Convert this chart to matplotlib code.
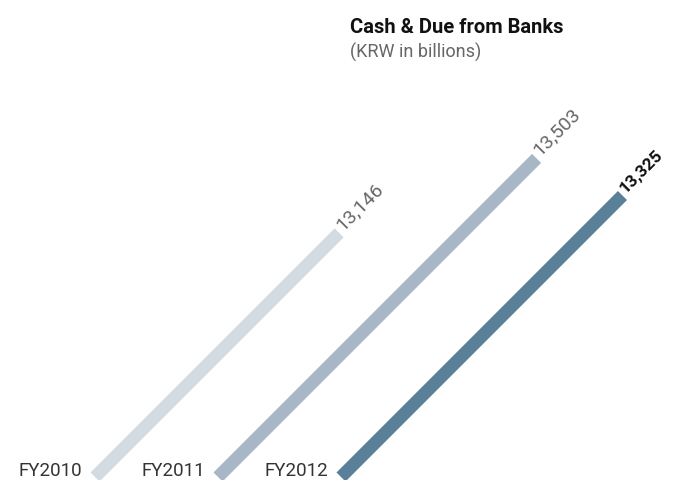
import numpy as np
import matplotlib
matplotlib.use('Agg')
import matplotlib.pyplot as plt

# Cash & Due from Banks, KRW in billions
years = ['FY2010', 'FY2011', 'FY2012']
values = [13146, 13503, 13325]
value_labels = ['13,146', '13,503', '13,325']
colors = ['#d3dbe2', '#a8b7c5', '#5a8099']

plt.rcParams['font.family'] = ['Roboto', 'DejaVu Sans']

W, H = 674, 481
fig = plt.figure(figsize=(W / 100, H / 100), dpi=100)
ax = fig.add_axes([0, 0, 1, 1])
ax.set_xlim(0, W)
ax.set_ylim(H, 0)
ax.axis('off')

# diagonal bars: run length scales with (value - base)
base = 11975
scale = 0.2085
x_start = 95
gap = 123
y_start = 478

for i, (year, v, lab, c) in enumerate(zip(years, values, value_labels, colors)):
    x0 = x_start + gap * i
    d = scale * (v - base)
    ax.plot([x0, x0 + d], [y_start, y_start - d], color=c, lw=9.2,
            solid_capstyle='butt')
    last = i == len(years) - 1
    ax.text(x0 + d + 3, y_start - d - 3, lab, rotation=45, rotation_mode='anchor',
            ha='left', va='baseline',
            fontsize=12.5 if last else 14,
            fontweight='bold' if last else 'normal',
            color='#111111' if last else '#666666')
    ax.text(x0 - 13, H - 1, year, ha='right', va='bottom',
            fontsize=13.5, color='#333333')

ax.text(350, 33, 'Cash & Due from Banks', fontsize=14.5, fontweight='bold',
        color='#111111', ha='left', va='baseline')
ax.text(350, 58, '(KRW in billions)', fontsize=13, color='#666666',
        ha='left', va='baseline')

fig.savefig('out.png', dpi=100)
